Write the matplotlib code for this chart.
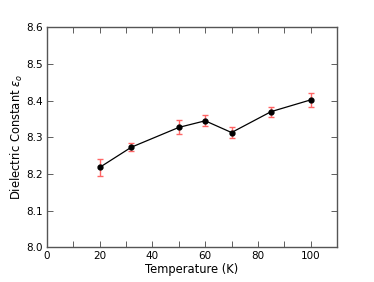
import matplotlib
matplotlib.use("Agg")
import matplotlib.pyplot as plt
from matplotlib.ticker import MultipleLocator

temperature = [20, 32, 50, 60, 70, 85, 100]
epsilon = [8.218, 8.273, 8.327, 8.345, 8.313, 8.370, 8.402]
epsilon_err = [0.024, 0.011, 0.019, 0.015, 0.016, 0.014, 0.018]

fig = plt.figure(figsize=(3.74, 2.82), dpi=100)
ax = fig.add_axes([47 / 374, 1 - 247.3 / 282, 290 / 374, 220 / 282])

ax.errorbar(temperature, epsilon, yerr=epsilon_err, fmt="o-", color="black",
            ecolor="#ff6666", elinewidth=1.0, capsize=2, capthick=1.0,
            markersize=3.5, linewidth=0.9)

ax.set_xlim(0, 110)
ax.set_ylim(8.0, 8.6)
ax.xaxis.set_major_locator(MultipleLocator(20))
ax.xaxis.set_minor_locator(MultipleLocator(10))
ax.yaxis.set_major_locator(MultipleLocator(0.1))

ax.tick_params(which="both", direction="in", top=True, right=True,
               labelsize=7.5, pad=3, width=0.6, color="#444444")
ax.tick_params(which="major", length=4)
ax.tick_params(which="minor", length=4)
for s in ax.spines.values():
    s.set_linewidth(1.0)
    s.set_color("#555555")

ax.set_xlabel("Temperature (K)", fontsize=8.3, labelpad=1)
ax.set_ylabel(r"Dielectric Constant $\epsilon_o$", fontsize=8.3, labelpad=1)

fig.savefig("out.png", dpi=100)
